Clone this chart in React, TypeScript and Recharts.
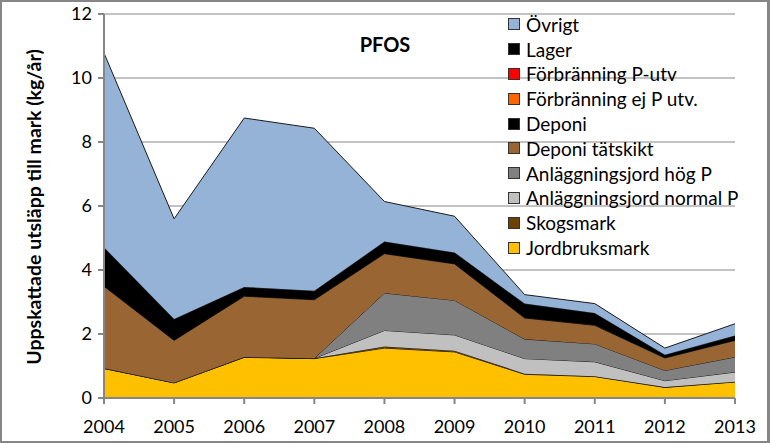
import React from 'react';
import { AreaChart, Area, XAxis, YAxis, CartesianGrid, Label } from 'recharts';

const years = ['2004', '2005', '2006', '2007', '2008', '2009', '2010', '2011', '2012', '2013'];
const jordbruksmark = [0.92, 0.47, 1.27, 1.23, 1.56, 1.44, 0.74, 0.67, 0.33, 0.5];
const skogsmark = [0.01, 0.01, 0.01, 0.01, 0.05, 0.04, 0.02, 0.01, 0.01, 0.01];
const anlNormalP = [0, 0, 0, 0, 0.5, 0.49, 0.47, 0.45, 0.2, 0.3];
const anlHogP = [0, 0, 0, 0, 1.17, 1.08, 0.61, 0.56, 0.32, 0.47];
const deponiTatskikt = [2.56, 1.32, 1.9, 1.83, 1.23, 1.14, 0.66, 0.58, 0.39, 0.52];
const deponi = [1.22, 0.67, 0.29, 0.28, 0.38, 0.36, 0.45, 0.39, 0.1, 0.15];
const forbrEjP = [0, 0, 0, 0, 0, 0, 0, 0, 0, 0];
const forbrP = [0, 0, 0, 0, 0, 0, 0, 0, 0, 0];
const lager = [0, 0, 0, 0, 0, 0, 0, 0, 0, 0];
const ovrigt = [6.07, 3.13, 5.28, 5.08, 1.25, 1.13, 0.28, 0.29, 0.21, 0.37];
const yTicks = [0, 2, 4, 6, 8, 10, 12];

const series = [
  { key: 'jordbruksmark', name: 'Jordbruksmark', values: jordbruksmark, color: '#FFC000' },
  { key: 'skogsmark', name: 'Skogsmark', values: skogsmark, color: '#6B4200' },
  { key: 'anlNormalP', name: 'Anläggningsjord normal P', values: anlNormalP, color: '#C0C0C0' },
  { key: 'anlHogP', name: 'Anläggningsjord hög P', values: anlHogP, color: '#808080' },
  { key: 'deponiTatskikt', name: 'Deponi tätskikt', values: deponiTatskikt, color: '#996633' },
  { key: 'deponi', name: 'Deponi', values: deponi, color: '#000000' },
  { key: 'forbrEjP', name: 'Förbränning ej P utv.', values: forbrEjP, color: '#FF6600' },
  { key: 'forbrP', name: 'Förbränning P-utv', values: forbrP, color: '#FF0000' },
  { key: 'lager', name: 'Lager', values: lager, color: '#000000' },
  { key: 'ovrigt', name: 'Övrigt', values: ovrigt, color: '#95B3D7' },
];

const data = years.map((y, i) => {
  const row: any = { year: y };
  series.forEach((s) => {
    row[s.key] = s.values[i];
  });
  return row;
});

const FONT = 'Lato, "DejaVu Sans", sans-serif';
const AXIS = '#868686';

const LegendBox = () => (
  <div
    style={{
      position: 'absolute',
      left: 508,
      top: 12,
      fontFamily: FONT,
      fontSize: 19,
      color: '#000',
      pointerEvents: 'none',
    }}
  >
    {[...series].reverse().map((s) => (
      <div key={s.key} style={{ display: 'flex', alignItems: 'center', height: 24.8, whiteSpace: 'nowrap' }}>
        <span
          style={{
            display: 'inline-block',
            width: 10,
            height: 10,
            background: s.color,
            border: '1px solid #333',
            marginRight: 6,
          }}
        />
        <span>{s.name}</span>
      </div>
    ))}
  </div>
);

export default function App() {
  return (
    <div
      style={{
        position: 'absolute',
        left: 0,
        top: 0,
        width: 770,
        height: 443,
        background: '#fff',
        boxSizing: 'border-box',
        border: '2px solid #868686',
        borderRight: '3px solid #868686',
      }}
    >
      <div style={{ position: 'absolute', left: -2, top: -2 }}>
        <AreaChart
          width={770}
          height={443}
          data={data}
          margin={{ top: 14, right: 35, bottom: 15, left: 0 }}
          style={{ overflow: 'visible' }}
        >
          <CartesianGrid vertical={false} stroke={AXIS} strokeWidth={1} />
          <XAxis
            dataKey="year"
            height={30}
            stroke={AXIS}
            strokeWidth={2}
            tickSize={6}
            tickMargin={16}
            tick={{ fill: '#000', fontSize: 18, fontFamily: FONT }}
            interval={0}
          />
          <YAxis
            width={104}
            domain={[0, 12]}
            ticks={yTicks}
            stroke={AXIS}
            strokeWidth={2}
            tickSize={6}
            tickMargin={6}
            tick={{ fill: '#000', fontSize: 18, fontFamily: FONT }}
          >
            <Label
              content={() => (
                <text
                  x={41}
                  y={207}
                  transform="rotate(-90 41 207)"
                  textAnchor="middle"
                  style={{ fontFamily: FONT, fontSize: 19.5, fontWeight: 700, fill: '#000' }}
                >
                  Uppskattade utsläpp till mark (kg/år)
                </text>
              )}
            />
          </YAxis>
          {series.map((s) => (
            <Area
              key={s.key}
              type="linear"
              dataKey={s.key}
              name={s.name}
              stackId="1"
              fill={s.color}
              fillOpacity={1}
              stroke="#1a1a1a"
              strokeWidth={1}
              isAnimationActive={false}
              dot={false}
              activeDot={false}
            />
          ))}
          <text
            x={385}
            y={52}
            textAnchor="middle"
            style={{ fontFamily: FONT, fontSize: 20, fontWeight: 700, fill: '#000' }}
          >
            PFOS
          </text>
        </AreaChart>
      </div>
      <div style={{ position: 'absolute', left: -2, top: -2 }}>
        <LegendBox />
      </div>
    </div>
  );
}
